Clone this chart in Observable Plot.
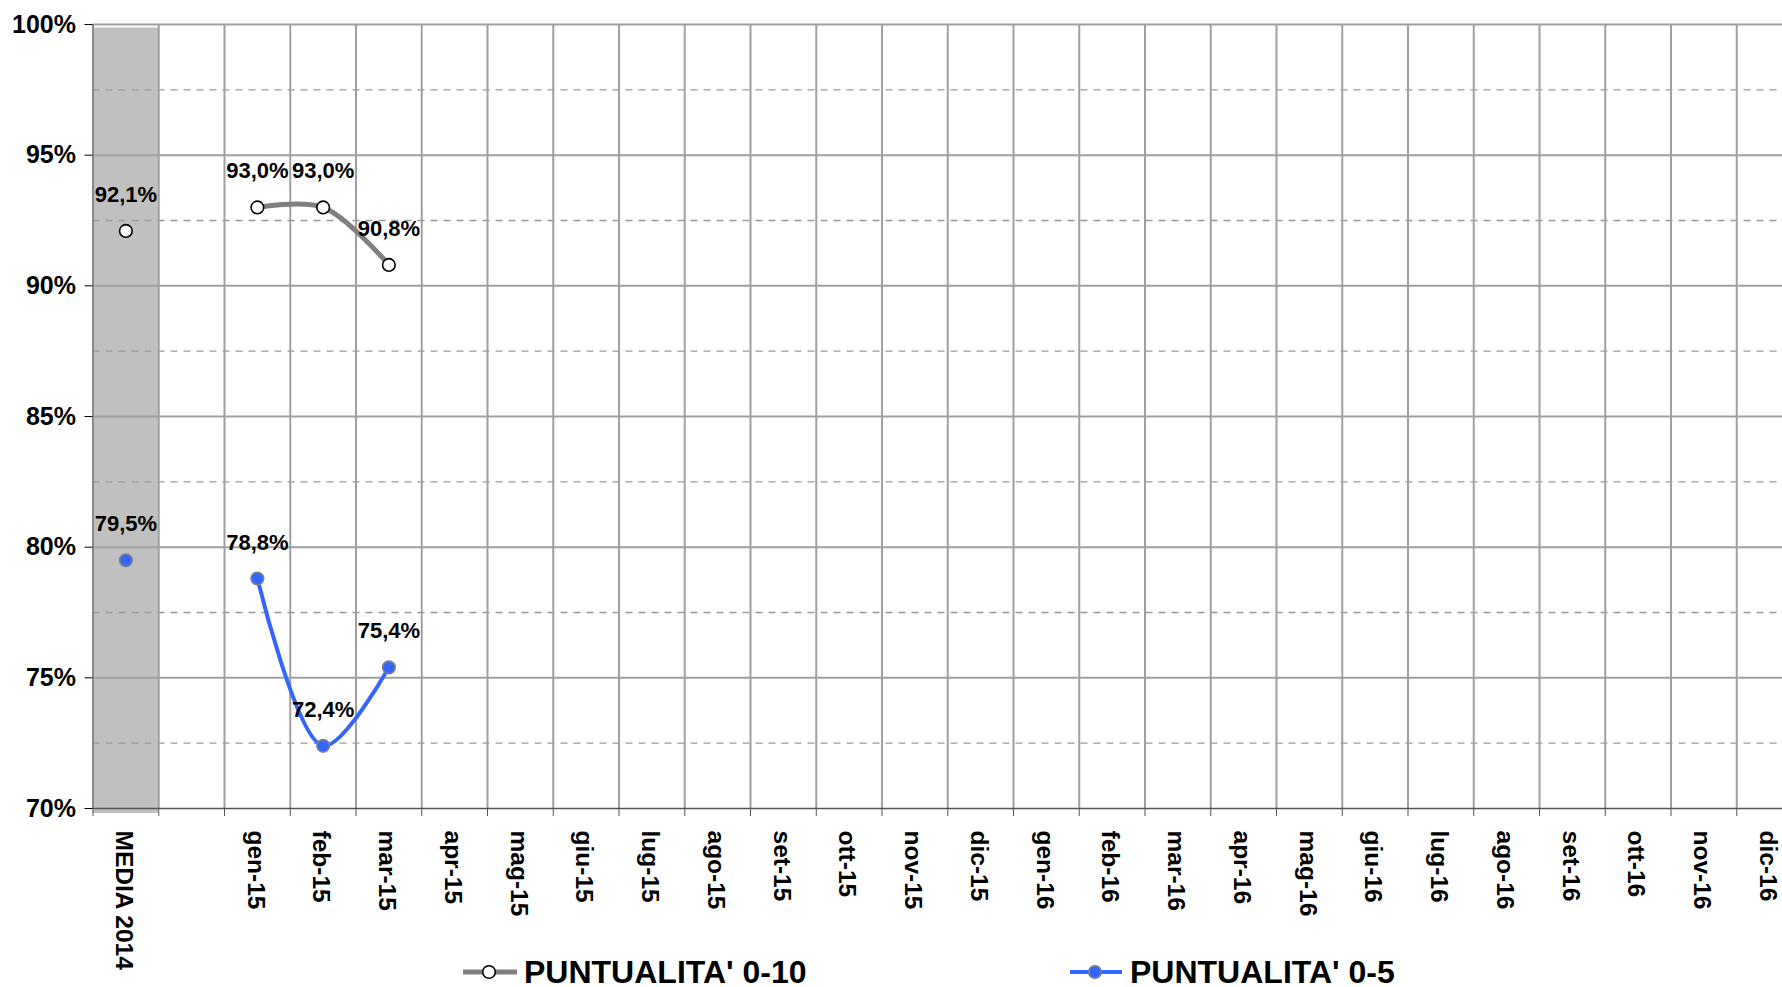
<!DOCTYPE html>
<html>
<head>
<meta charset="utf-8">
<script src="https://cdn.jsdelivr.net/npm/d3@7"></script>
<script src="https://cdn.jsdelivr.net/npm/@observablehq/plot@0.6"></script>
<style>
  html, body { margin: 0; padding: 0; background: #fff; overflow: hidden; width: 1782px; height: 987px; }
  #chart { position: relative; }
  #legend { position: relative; height: 35px; font-family: "Liberation Sans", Arial, sans-serif; }
  .li { position: absolute; top: 0; }
  .lt { position: absolute; top: 3.9px; font-size: 32px; line-height: 32px; font-weight: bold; color: #000; white-space: pre; }
</style>
</head>
<body>
<div id="chart"></div>
<div id="legend"></div>
<script>
// ---- data ----
const categories = ["MEDIA 2014", "", "gen-15", "feb-15", "mar-15", "apr-15", "mag-15", "giu-15", "lug-15",
  "ago-15", "set-15", "ott-15", "nov-15", "dic-15", "gen-16", "feb-16", "mar-16", "apr-16", "mag-16",
  "giu-16", "lug-16", "ago-16", "set-16", "ott-16", "nov-16", "dic-16"];
const seriesNames = ["PUNTUALITA' 0-10", "PUNTUALITA' 0-5"];
const media2014 = [92.1, 79.5];               // MEDIA 2014 per series
const months = ["gen-15", "feb-15", "mar-15"];
const puntualita010 = [93.0, 93.0, 90.8];
const puntualita05 = [78.8, 72.4, 75.4];
const yTicks = [70, 75, 80, 85, 90, 95, 100];
const yMinor = [72.5, 77.5, 82.5, 87.5, 92.5, 97.5];

// ---- derived tables ----
const idx = c => categories.indexOf(c) + 0.5;
const s010 = months.map((m, i) => ({x: idx(m), y: puntualita010[i]}));
const s05 = months.map((m, i) => ({x: idx(m), y: puntualita05[i]}));
const m010 = [{x: idx("MEDIA 2014"), y: media2014[0]}];
const m05 = [{x: idx("MEDIA 2014"), y: media2014[1]}];
const all010 = m010.concat(s010);
const all05 = m05.concat(s05);
const fmt = v => v.toFixed(1).replace(".", ",") + "%";
const bounds = d3.range(0, categories.length + 1);
const centers = categories.map((c, i) => i + 0.5);

const FONT = '"Liberation Sans", Arial, sans-serif';
const GRID = "#a0a0a0";

const chart = Plot.plot({
  width: 1802,
  height: 952,
  marginLeft: 92.5,
  marginRight: 0,
  marginTop: 24,
  marginBottom: 144,
  style: {fontFamily: FONT, maxWidth: "none", overflow: "visible", background: "white"},
  x: {type: "linear", domain: [0, categories.length], label: null},
  y: {type: "linear", domain: [70, 100], label: null},
  marks: [
    // gray band for MEDIA 2014
    Plot.rect([{c: 0}], {x1: d => d.c, x2: d => d.c + 1, y1: 70, y2: 100, fill: "#c0c0c0", insetTop: 3.5, insetBottom: -5}),
    // minor dashed gridlines
    Plot.ruleY(yMinor, {stroke: "#9a9a9a", strokeWidth: 1.3, strokeDasharray: "7,6"}),
    // major gridlines
    Plot.ruleY(yTicks.filter(v => v > 70), {stroke: GRID, strokeWidth: 2}),
    // vertical gridlines
    Plot.ruleX(bounds.slice(1), {y1: 70, y2: 100, stroke: GRID, strokeWidth: 2}),
    Plot.ruleX([0], {y1: 70, y2: 100, stroke: "#8a8a8a", strokeWidth: 2}),
    // bottom axis line
    Plot.ruleY([70], {stroke: "#555", strokeWidth: 1.5}),
    // axes
    Plot.axisY({ticks: yTicks, tickFormat: d => d + "%", tickSize: 8, tickPadding: 9, fontSize: 25, fontWeight: "bold", stroke: "#000", label: null}),
    Plot.axisX({ticks: bounds, tickFormat: () => "", tickSize: 8, stroke: "#555", label: null}),
    Plot.axisX({ticks: centers, tickFormat: d => categories[Math.floor(d)], tickSize: 0, tickPadding: 22, tickRotate: 90, dx: -2, fontSize: 24.5, fontWeight: "bold", fill: "#000", label: null}),
    // series lines
    Plot.line(s010, {x: "x", y: "y", stroke: "#808080", strokeWidth: 5, curve: "catmull-rom"}),
    Plot.line(s05, {x: "x", y: "y", stroke: "#3366ff", strokeWidth: 4, curve: "catmull-rom"}),
    // markers
    Plot.dot(all010, {x: "x", y: "y", r: 6.3, fill: "white", stroke: "#000", strokeWidth: 1.6}),
    Plot.dot(all05, {x: "x", y: "y", r: 6.3, fill: "#3366ff", stroke: "#808080", strokeWidth: 1.6}),
    // data labels
    Plot.text(all010, {x: "x", y: "y", text: d => fmt(d.y), lineAnchor: "bottom", dy: -29, fontSize: 22, fontWeight: "bold", fill: "#000"}),
    Plot.text(all05, {x: "x", y: "y", text: d => fmt(d.y), lineAnchor: "bottom", dy: -29, fontSize: 22, fontWeight: "bold", fill: "#000"})
  ]
});
document.getElementById("chart").appendChild(chart);

// ---- legend (HTML, below the SVG) ----
const legend = document.getElementById("legend");
const items = [
  {name: seriesNames[0], line: "#808080", lw: 5, fill: "white", stroke: "#000", x0: 463, cx: 489, x1: 517, tx: 524},
  {name: seriesNames[1], line: "#3366ff", lw: 4, fill: "#3366ff", stroke: "#808080", x0: 1070, cx: 1095, x1: 1122, tx: 1130}
];
items.forEach(it => {
  const w = it.x1 - it.x0;
  const sw = document.createElement("div");
  sw.className = "li";
  sw.style.left = it.x0 + "px";
  sw.innerHTML = `<svg width="${w}" height="35" style="display:block"><line x1="0" x2="${w}" y1="20" y2="20" stroke="${it.line}" stroke-width="${it.lw}" stroke-linecap="round"/><circle cx="${it.cx - it.x0}" cy="20" r="6.3" fill="${it.fill}" stroke="${it.stroke}" stroke-width="1.6"/></svg>`;
  legend.appendChild(sw);
  const t = document.createElement("div");
  t.className = "lt";
  t.style.left = it.tx + "px";
  t.textContent = it.name;
  legend.appendChild(t);
});
</script>
</body>
</html>
